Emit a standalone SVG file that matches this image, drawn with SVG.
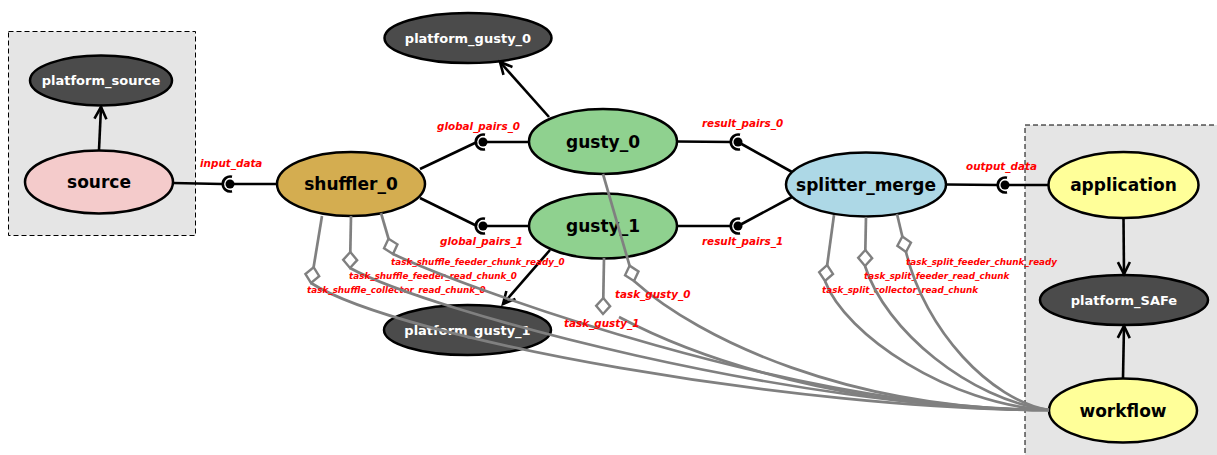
<svg xmlns="http://www.w3.org/2000/svg" width="1217" height="455" viewBox="0 0 1217 455">
<style>
.cl{fill:#e5e5e5;stroke:#000;stroke-width:1;stroke-dasharray:5,3}
.nd{stroke:#000;stroke-width:2.5}
.plat{fill:#4b4b4b}
.nt{font-family:"DejaVu Sans",sans-serif;font-weight:bold;font-size:17px;fill:#000;text-anchor:middle}
.pt{font-family:"DejaVu Sans",sans-serif;font-weight:bold;font-size:13px;fill:#fff;text-anchor:middle}
.el{font-family:"DejaVu Sans",sans-serif;font-weight:bold;font-style:italic;font-size:10.4px;fill:#ff0000}
.tl{font-family:"DejaVu Sans",sans-serif;font-weight:bold;font-style:italic;font-size:8.8px;fill:#ff0000}
.bl{stroke:#000;stroke-width:2.6;fill:none}
.gl{stroke:#808080;stroke-width:2.7;fill:none}
.dot{fill:#000}
</style>
<defs>
<marker id="arr" markerUnits="userSpaceOnUse" viewBox="0 0 16 16" markerWidth="16" markerHeight="16" refX="13" refY="8" orient="auto">
<path d="M1,2 L13,8 L1,14" fill="none" stroke="#000" stroke-width="2.6"/>
</marker>
<marker id="dia" markerUnits="userSpaceOnUse" viewBox="-2 -9 20 18" markerWidth="20" markerHeight="18" refX="16" refY="0" orient="auto">
<path d="M0,0 L8,-7 L16,0 L8,7 Z" fill="#fff" stroke="#808080" stroke-width="2.4"/>
</marker>
</defs>
<rect width="1217" height="455" fill="#fff"/>
<g id="cluster_source"><rect class="cl" x="8.5" y="31.5" width="187" height="204"/></g>
<g id="cluster_safe"><rect class="cl" x="1025" y="125" width="200" height="340"/></g>

<g id="platform_source"><ellipse class="nd plat" cx="101" cy="80.5" rx="71" ry="25"/><text class="pt" x="101" y="85">platform_source</text></g>
<g id="source"><ellipse class="nd" fill="#f4cbcb" cx="99" cy="182" rx="74" ry="31.5"/><text class="nt" x="99" y="188">source</text></g>
<g id="shuffler_0"><ellipse class="nd" fill="#d4ad50" cx="351" cy="184" rx="74" ry="32"/><text class="nt" x="351" y="190">shuffler_0</text></g>
<g id="gusty_0"><ellipse class="nd" fill="#8fd18f" cx="603" cy="141.5" rx="74" ry="32.5"/><text class="nt" x="603" y="147.5">gusty_0</text></g>
<g id="gusty_1"><ellipse class="nd" fill="#8fd18f" cx="603" cy="226" rx="74" ry="32.5"/><text class="nt" x="603" y="232">gusty_1</text></g>
<g id="platform_gusty_0"><ellipse class="nd plat" cx="468" cy="38" rx="83.5" ry="25"/><text class="pt" x="468" y="42.5">platform_gusty_0</text></g>
<g id="platform_gusty_1"><ellipse class="nd plat" cx="467.5" cy="330" rx="83.5" ry="25"/><text class="pt" x="467.5" y="334.5">platform_gusty_1</text></g>
<g id="splitter_merge"><ellipse class="nd" fill="#add8e6" cx="866" cy="184.5" rx="80" ry="32"/><text class="nt" x="866" y="190.5">splitter_merge</text></g>
<g id="application"><ellipse class="nd" fill="#ffff99" cx="1123.5" cy="185" rx="75" ry="33"/><text class="nt" x="1123.5" y="191">application</text></g>
<g id="platform_SAFe"><ellipse class="nd plat" cx="1124" cy="300" rx="84" ry="25"/><text class="pt" x="1124" y="304.5">platform_SAFe</text></g>
<g id="workflow"><ellipse class="nd" fill="#ffff99" cx="1123" cy="410.5" rx="74" ry="32"/><text class="nt" x="1123" y="416.5">workflow</text></g>

<g id="connectors">
<line class="bl" x1="99" y1="150" x2="101" y2="107" marker-end="url(#arr)"/>
<line class="bl" x1="549" y1="117" x2="500" y2="62" marker-end="url(#arr)"/>
<line class="bl" x1="550" y1="250" x2="503" y2="304" marker-end="url(#arr)"/>
<line class="bl" x1="1123.5" y1="218" x2="1124" y2="274" marker-end="url(#arr)"/>
<line class="bl" x1="1123" y1="378" x2="1124" y2="326" marker-end="url(#arr)"/>
<g id="input_data">
<line class="bl" x1="173" y1="183" x2="222" y2="184"/>
<path class="bl" d="M232,176.7 A7.5,7.5 0 1 0 232,191.3"/>
<circle class="dot" cx="230" cy="184" r="4.5"/>
<line class="bl" x1="230" y1="184" x2="277" y2="184"/>
<text class="el" x="200" y="167">input_data</text>
</g>
<g id="global_pairs_0">
<line class="bl" x1="420" y1="169" x2="477" y2="142"/>
<path class="bl" d="M485,134.7 A7.5,7.5 0 1 0 485,149.3"/>
<circle class="dot" cx="483" cy="142" r="4.5"/>
<line class="bl" x1="483" y1="142" x2="529" y2="142"/>
<text class="el" x="437" y="129.5">global_pairs_0</text>
</g>
<g id="global_pairs_1">
<line class="bl" x1="420" y1="198" x2="477" y2="226"/>
<path class="bl" d="M485,218.7 A7.5,7.5 0 1 0 485,233.3"/>
<circle class="dot" cx="483" cy="226" r="4.5"/>
<line class="bl" x1="483" y1="226" x2="529" y2="226"/>
<text class="el" x="440" y="245">global_pairs_1</text>
</g>
<g id="result_pairs_0">
<line class="bl" x1="677" y1="141.5" x2="731" y2="142"/>
<path class="bl" d="M740,134.7 A7.5,7.5 0 1 0 740,149.3"/>
<circle class="dot" cx="738" cy="142" r="4.5"/>
<line class="bl" x1="738" y1="142" x2="792" y2="172"/>
<text class="el" x="702" y="127">result_pairs_0</text>
</g>
<g id="result_pairs_1">
<line class="bl" x1="677" y1="226" x2="731" y2="226"/>
<path class="bl" d="M740,218.7 A7.5,7.5 0 1 0 740,233.3"/>
<circle class="dot" cx="738" cy="226" r="4.5"/>
<line class="bl" x1="738" y1="226" x2="792" y2="197"/>
<text class="el" x="702" y="245">result_pairs_1</text>
</g>
<g id="output_data">
<line class="bl" x1="946" y1="184.5" x2="998" y2="185"/>
<path class="bl" d="M1007,177.7 A7.5,7.5 0 1 0 1007,192.3"/>
<circle class="dot" cx="1005" cy="185" r="4.5"/>
<line class="bl" x1="1005" y1="185" x2="1049" y2="185"/>
<text class="el" x="966" y="170">output_data</text>
</g>
<g id="task_shuffle_collector_read_chunk_0">
<line class="gl" x1="322" y1="216" x2="311" y2="283" marker-end="url(#dia)"/>
<path class="gl" d="M311,283 C400,340 800,410 1049,410"/>
<text class="tl" x="307" y="293">task_shuffle_collector_read_chunk_0</text>
</g>
<g id="task_shuffle_feeder_read_chunk_0">
<line class="gl" x1="351" y1="216" x2="350" y2="268" marker-end="url(#dia)"/>
<path class="gl" d="M350,268 C430,312 800,410 1049,410"/>
<text class="tl" x="349" y="279">task_shuffle_feeder_read_chunk_0</text>
</g>
<g id="task_shuffle_feeder_chunk_ready_0">
<line class="gl" x1="381" y1="213" x2="393" y2="254" marker-end="url(#dia)"/>
<path class="gl" d="M393,254 C470,290 800,410 1049,410"/>
<text class="tl" x="391" y="265">task_shuffle_feeder_chunk_ready_0</text>
</g>
<g id="task_gusty_0">
<line class="gl" x1="603" y1="174" x2="634" y2="281" marker-end="url(#dia)"/>
<path class="gl" d="M634,281 C700,340 850,410 1049,410"/>
<text class="el" x="615" y="298">task_gusty_0</text>
</g>
<g id="task_gusty_1">
<line class="gl" x1="604" y1="258" x2="603" y2="314" marker-end="url(#dia)"/>
<path class="gl" d="M619,317 C700,360 850,410 1049,410"/>
<text class="el" x="564" y="327">task_gusty_1</text>
</g>
<g id="task_split_collector_read_chunk">
<line class="gl" x1="834" y1="215" x2="825" y2="281" marker-end="url(#dia)"/>
<path class="gl" d="M825,281 C845,335 950,405 1049,410"/>
<text class="tl" x="822" y="293">task_split_collector_read_chunk</text>
</g>
<g id="task_split_feeder_read_chunk">
<line class="gl" x1="866" y1="217" x2="865" y2="266" marker-end="url(#dia)"/>
<path class="gl" d="M865,266 C885,330 970,400 1049,410"/>
<text class="tl" x="864" y="279">task_split_feeder_read_chunk</text>
</g>
<g id="task_split_feeder_chunk_ready">
<line class="gl" x1="897" y1="214" x2="906" y2="252" marker-end="url(#dia)"/>
<path class="gl" d="M906,252 C925,330 990,400 1049,410"/>
<text class="tl" x="906" y="265">task_split_feeder_chunk_ready</text>
</g>
</g>
</svg>
